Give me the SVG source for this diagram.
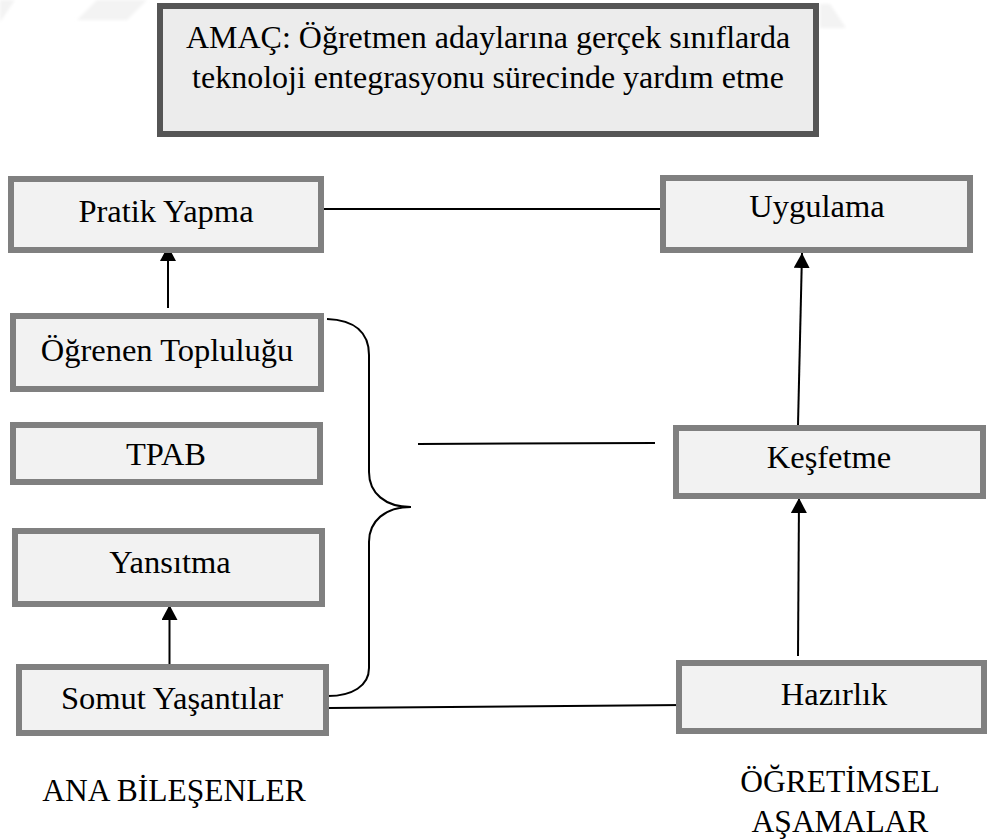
<svg xmlns="http://www.w3.org/2000/svg" width="989" height="839" viewBox="0 0 989 839">
  <style>
    text { font-family: "Liberation Serif", "Times New Roman", serif; fill: #000; text-anchor: middle; }
    .lbl { font-size: 32.5px; }
    .cap { font-size: 31.5px; }
    .goal { font-size: 32px; }
    .box { fill: #f2f2f2; stroke: #808080; stroke-width: 6; }
    .goalbox { fill: #ececec; stroke: #555555; stroke-width: 6; }
    .wire { fill: none; stroke: #000; stroke-width: 2; }
    .mark { fill: #f3f3f3; }
  </style>
  <defs>
    <marker id="head" markerUnits="userSpaceOnUse" markerWidth="16" markerHeight="16" refX="15" refY="8" orient="auto">
      <path d="M0,0 L15,8 L0,16 Z" fill="#000"/>
    </marker>
    <filter id="soft" x="-20%" y="-20%" width="140%" height="140%">
      <feGaussianBlur stdDeviation="1.5"/>
    </filter>
  </defs>

  <!-- faint background marks -->
  <g id="background" filter="url(#soft)">
    <polygon class="mark" points="0,0 15,0 0,22"/>
    <polygon class="mark" points="77,20 97,0 147,0 127,20"/>
    <polygon class="mark" points="820,4 830,4 846,28 820,28"/>
  </g>

  <!-- connectors -->
  <g id="connectors">
    <line class="wire" x1="324" y1="209" x2="660" y2="209"/>
    <line class="wire" x1="168" y1="308" x2="168" y2="246" marker-end="url(#head)"/>
    <line class="wire" x1="169.5" y1="667" x2="169.5" y2="605" marker-end="url(#head)"/>
    <line class="wire" x1="798" y1="656" x2="799" y2="498" marker-end="url(#head)"/>
    <line class="wire" x1="798" y1="425" x2="802" y2="253" marker-end="url(#head)"/>
    <path class="wire" d="M327,319 C355,320 369,333 369,355 L369,472 C369,493 385,507 411,507 C385,507 369,521 369,542 L369,668 C369,686 352,696 328,696"/>
    <line class="wire" x1="418" y1="444" x2="655" y2="443"/>
    <line class="wire" x1="329" y1="708" x2="685" y2="705"/>
  </g>

  <g id="goal">
    <rect class="goalbox" x="160" y="6" width="656" height="128"/>
    <text class="goal" x="488" y="48">AMAÇ: Öğretmen adaylarına gerçek sınıflarda</text>
    <text class="goal" x="488" y="88">teknoloji entegrasyonu sürecinde yardım etme</text>
  </g>

  <g id="pratik-yapma">
    <rect class="box" x="11" y="179" width="310" height="71"/>
    <text class="lbl" x="166" y="222">Pratik Yapma</text>
  </g>

  <g id="ogrenen-toplulugu">
    <rect class="box" x="13" y="316" width="308" height="73"/>
    <text class="lbl" x="167" y="361">Öğrenen Topluluğu</text>
  </g>

  <g id="tpab">
    <rect class="box" x="13" y="425" width="307" height="57"/>
    <text class="lbl" x="166" y="465">TPAB</text>
  </g>

  <g id="yansitma">
    <rect class="box" x="15" y="531" width="307" height="73"/>
    <text class="lbl" x="170" y="573">Yansıtma</text>
  </g>

  <g id="somut-yasantilar">
    <rect class="box" x="19" y="667" width="307" height="66"/>
    <text class="lbl" x="172" y="709">Somut Yaşantılar</text>
  </g>

  <g id="uygulama">
    <rect class="box" x="663" y="178" width="307" height="72"/>
    <text class="lbl" x="817" y="217">Uygulama</text>
  </g>

  <g id="kesfetme">
    <rect class="box" x="676" y="428" width="307" height="68"/>
    <text class="lbl" x="829" y="468">Keşfetme</text>
  </g>

  <g id="hazirlik">
    <rect class="box" x="679" y="663" width="305" height="68"/>
    <text class="lbl" x="834" y="705">Hazırlık</text>
  </g>

  <g id="ana-bilesenler">
    <text class="cap" x="174" y="801">ANA BİLEŞENLER</text>
  </g>

  <g id="ogretimsel-asamalar">
    <text class="cap" x="840" y="792">ÖĞRETİMSEL</text>
    <text class="cap" x="840" y="832">AŞAMALAR</text>
  </g>
</svg>
